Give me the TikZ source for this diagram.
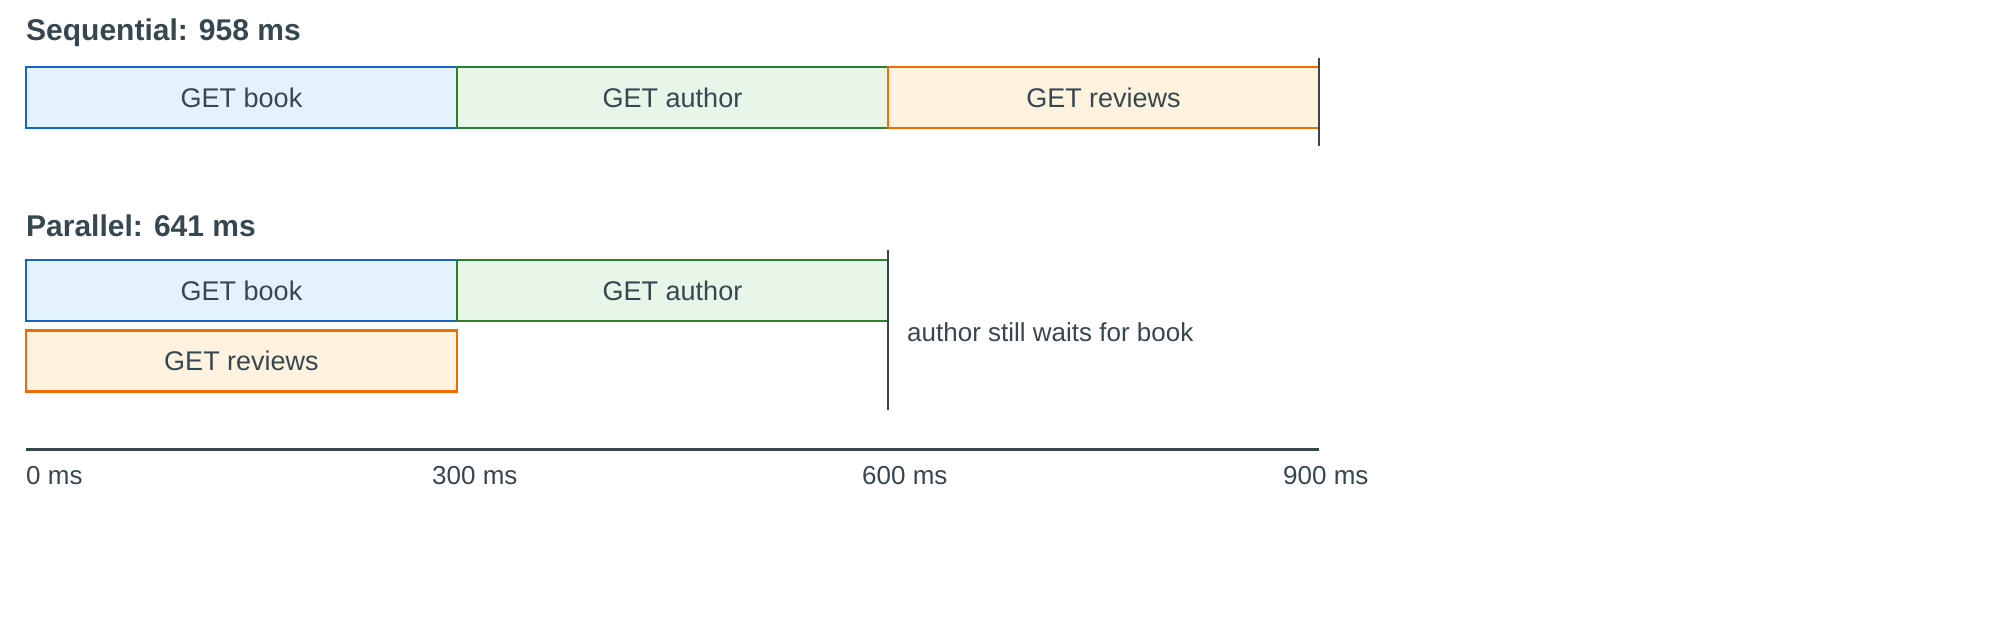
\documentclass[tikz,border=0pt]{standalone}
\usepackage{fontspec}
\setmainfont{Liberation Sans}
\definecolor{txt}{HTML}{37474F}
\definecolor{bB}{HTML}{1565C0}\definecolor{bF}{HTML}{E3F2FD}
\definecolor{gB}{HTML}{2E7D32}\definecolor{gF}{HTML}{E8F5E9}
\definecolor{oB}{HTML}{EF6C00}\definecolor{oF}{HTML}{FFF3E0}
\begin{document}
\begin{tikzpicture}[x=1pt,y=-1pt,
  bar/.style={draw=#1B,fill=#1F,line width=2.5pt,minimum height=61pt,inner sep=0pt,text=txt,font=\fontsize{27}{30}\selectfont},
  ttl/.style={anchor=west,text=txt,font=\fontsize{30}{34}\selectfont\bfseries,inner sep=0pt},
  lbl/.style={text=txt,font=\fontsize{26}{30}\selectfont,inner sep=0pt},
  endmark/.style={draw=txt,line width=2.5pt}]
\useasboundingbox (0,0) rectangle (2000,633);
\node[ttl] (t1) at (26,33) {Sequential: 958 ms};
\node[bar=b,minimum width=431pt] (s1) at (241.5,97.5) {GET book};
\node[bar=g,minimum width=431pt] (s2) at (672.5,97.5) {GET author};
\node[bar=o,minimum width=431pt] (s3) at (1103.5,97.5) {GET reviews};
\coordinate (e1a) at (1319,58); \coordinate (e1b) at (1319,146);
\draw[endmark] (e1a) -- (e1b);
\node[ttl] (t2) at (26,226) {Parallel: 641 ms};
\node[bar=b,minimum width=431pt] (p1) at (241.5,290.5) {GET book};
\node[bar=g,minimum width=431pt] (p2) at (672.5,290.5) {GET author};
\node[bar=o,minimum width=431pt] (p3) at (241.5,361) {GET reviews};
\coordinate (e2a) at (888,250); \coordinate (e2b) at (888,410);
\draw[endmark] (e2a) -- (e2b);
\node[lbl,anchor=west] (note) at (907,332) {author still waits for book};
\coordinate (a0) at (26,449); \coordinate (a1) at (1319,449);
\draw[endmark,line width=3pt] (a0) -- (a1);
\node[lbl,anchor=west] (l0) at (26,476) {0 ms};
\node[lbl,anchor=west] (l1) at (432,476) {300 ms};
\node[lbl,anchor=west] (l2) at (862,476) {600 ms};
\node[lbl,anchor=west] (l3) at (1283,476) {900 ms};
\end{tikzpicture}
\end{document}
